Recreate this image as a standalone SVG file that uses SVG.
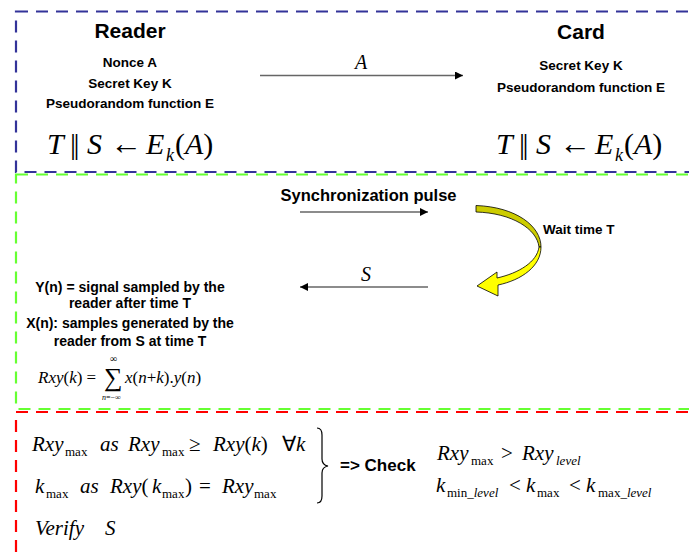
<svg xmlns="http://www.w3.org/2000/svg" width="689" height="558" viewBox="0 0 689 558">
<defs>
<style>
.frame{fill:none;stroke-width:2.2;stroke-dasharray:12 8}
.lbl{font-family:"Liberation Sans",Arial,sans-serif;font-weight:bold;fill:#000}
.m{font-family:"Liberation Serif","Times New Roman",serif;font-style:italic;fill:#000}
.u{font-style:normal}
.ln{stroke:#666;stroke-width:1.6;fill:none}
</style>
<marker id="ah" viewBox="0 0 10 10" refX="10" refY="5" markerWidth="5" markerHeight="5" orient="auto" markerUnits="strokeWidth">
<path d="M0,0 L10,5 L0,10 Z" fill="#000"/>
</marker>
</defs>
<rect width="689" height="558" fill="#fff"/>

<g id="frames">
<rect class="frame" x="16" y="11.5" width="700" height="160.5" stroke="#333399"/>
<rect class="frame" x="16" y="174.5" width="700" height="234.5" stroke="#66ff33"/>
<rect class="frame" x="16" y="412" width="700" height="200" stroke="#ff0000"/>
</g>

<g id="reader">
<text class="lbl" x="130" y="38" font-size="21" text-anchor="middle">Reader</text>
<text class="lbl" x="130" y="67" font-size="13.5" text-anchor="middle">Nonce A</text>
<text class="lbl" x="130" y="88" font-size="13.5" text-anchor="middle">Secret Key K</text>
<text class="lbl" x="130" y="108" font-size="13.5" text-anchor="middle">Pseudorandom function E</text>
<text class="m" font-size="30" y="154"><tspan x="47">T</tspan><tspan x="70" class="u" font-size="30" letter-spacing="-2.5">||</tspan><tspan x="87">S</tspan><tspan x="110" class="u" font-size="32">←</tspan><tspan x="146">E</tspan><tspan x="166" y="161" font-size="18">k</tspan><tspan x="175" y="154" class="u">(</tspan><tspan>A</tspan><tspan class="u">)</tspan></text>
</g>

<g id="card">
<text class="lbl" x="581" y="39" font-size="21" text-anchor="middle">Card</text>
<text class="lbl" x="581" y="70" font-size="13.5" text-anchor="middle">Secret Key K</text>
<text class="lbl" x="581" y="92" font-size="13.5" text-anchor="middle">Pseudorandom function E</text>
<text class="m" font-size="30" y="154"><tspan x="496">T</tspan><tspan x="519" class="u" font-size="30" letter-spacing="-2.5">||</tspan><tspan x="536">S</tspan><tspan x="559" class="u" font-size="32">←</tspan><tspan x="595">E</tspan><tspan x="615" y="161" font-size="18">k</tspan><tspan x="624" y="154" class="u">(</tspan><tspan>A</tspan><tspan class="u">)</tspan></text>
</g>

<g id="correlation">
<text class="lbl" x="130" y="292" font-size="14" text-anchor="middle">Y(n) = signal sampled by the</text>
<text class="lbl" x="130" y="308" font-size="14" text-anchor="middle">reader after time T</text>
<text class="lbl" x="130" y="328" font-size="14" text-anchor="middle">X(n): samples generated by the</text>
<text class="lbl" x="130" y="346" font-size="14" text-anchor="middle">reader from S at time T</text>
<text class="m" font-size="17" y="383"><tspan x="38">Rxy</tspan><tspan class="u">(</tspan><tspan>k</tspan><tspan class="u">) =</tspan></text>
<text class="m u" font-size="26" x="104" y="386">∑</text>
<text class="m u" font-size="10" x="110" y="362">∞</text>
<text class="m" font-size="8" x="102" y="400"><tspan>n</tspan><tspan class="u">=−∞</tspan></text>
<text class="m" font-size="17" y="383"><tspan x="125">x</tspan><tspan class="u">(</tspan><tspan>n</tspan><tspan class="u">+</tspan><tspan>k</tspan><tspan class="u">).</tspan><tspan>y</tspan><tspan class="u">(</tspan><tspan>n</tspan><tspan class="u">)</tspan></text>
</g>

<g id="verification">
<text class="m" font-size="21" y="451"><tspan x="32">Rxy</tspan><tspan x="65" y="456" class="u" font-size="13">max</tspan><tspan x="100" y="451">as</tspan><tspan x="128">Rxy</tspan><tspan x="162" y="456" class="u" font-size="13">max</tspan><tspan x="189" y="451" class="u">≥</tspan><tspan x="213">Rxy</tspan><tspan class="u">(</tspan><tspan>k</tspan><tspan class="u">)</tspan><tspan x="282" class="u">∀</tspan><tspan>k</tspan></text>
<text class="m" font-size="21" y="493"><tspan x="35">k</tspan><tspan x="46" y="498" class="u" font-size="13">max</tspan><tspan x="80" y="493">as</tspan><tspan x="110">Rxy</tspan><tspan class="u">(</tspan><tspan x="152">k</tspan><tspan x="162" y="498" class="u" font-size="13">max</tspan><tspan x="185" y="493" class="u">)</tspan><tspan x="199" class="u">=</tspan><tspan x="222">Rxy</tspan><tspan x="254" y="498" class="u" font-size="13">max</tspan></text>
<text class="m" font-size="21" y="535"><tspan x="35">Verify</tspan><tspan x="105">S</tspan></text>
<path d="M317,428 Q322,428 322,435 L322,459 Q322,465 328,466 Q322,467 322,473 L322,496 Q322,503 317,503" fill="none" stroke="#000" stroke-width="1.2"/>
<text class="lbl" x="340" y="471" font-size="17">=&gt; Check</text>
<text class="m" font-size="21" y="460"><tspan x="437">Rxy</tspan><tspan x="471" y="465" class="u" font-size="13">max</tspan><tspan x="501" y="460" class="u">&gt;</tspan><tspan x="522">Rxy</tspan><tspan x="556" y="465" font-size="13">level</tspan></text>
<text class="m" font-size="21" y="492"><tspan x="436">k</tspan><tspan x="447" y="497" class="u" font-size="13">min</tspan><tspan font-size="13">_level</tspan><tspan x="509" y="492" class="u">&lt;</tspan><tspan x="526">k</tspan><tspan x="537" y="497" class="u" font-size="13">max</tspan><tspan x="569" y="492" class="u">&lt;</tspan><tspan x="586">k</tspan><tspan x="598" y="497" class="u" font-size="13">max</tspan><tspan font-size="13">_level</tspan></text>
</g>

<g id="connectors">
<line class="ln" x1="260" y1="75.5" x2="463" y2="75.5" marker-end="url(#ah)"/>
<text class="m" font-size="20" x="355" y="69">A</text>
<line class="ln" x1="300" y1="212" x2="428" y2="212" marker-end="url(#ah)"/>
<text class="lbl" x="368.5" y="201" font-size="16.5" text-anchor="middle">Synchronization pulse</text>
<line class="ln" x1="428" y1="287" x2="300" y2="287" marker-end="url(#ah)"/>
<text class="m" font-size="20" x="361" y="281">S</text>
<path d="M476,205.5 C516,207 541,226 541,247 L539,247 C537,229 512,213 476,212 Z" fill="#cccc00" stroke="#000" stroke-width="0.8"/>
<path d="M539,247 L541,247 C541,266 522,280 498,285 L498,296 L477,286 L497,272 L497,278 C519,273 537,262 539,247 Z" fill="#ffff00" stroke="#000" stroke-width="0.8"/>
<text class="lbl" x="543" y="234" font-size="13.5">Wait time T</text>
</g>
</svg>
